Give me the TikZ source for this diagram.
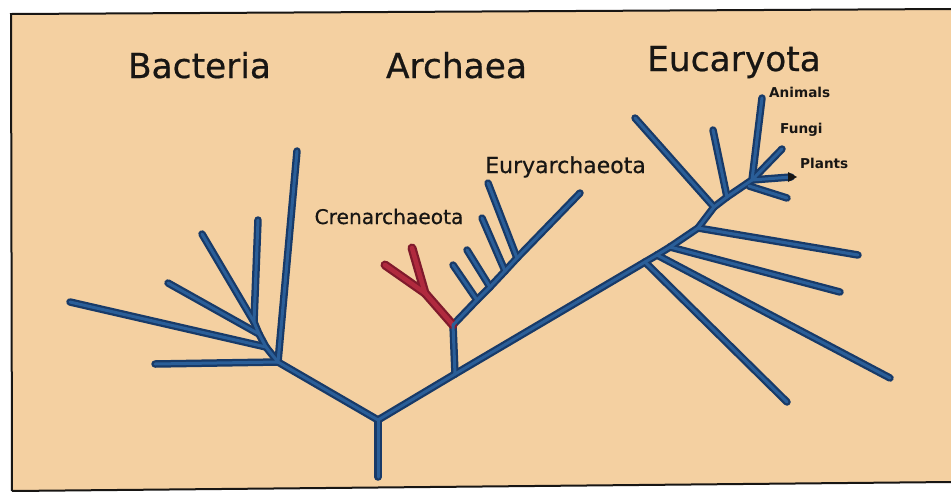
\documentclass[tikz,border=0pt]{standalone}
\usepackage{fontspec}
\setmainfont{DejaVu Sans}
\newfontfamily\heavyfont[FakeBold=0.6]{DejaVu Sans}
\usetikzlibrary{calc}
\definecolor{bg}{RGB}{244,208,161}
\definecolor{bout}{RGB}{24,58,104}
\definecolor{bin}{RGB}{42,94,152}
\definecolor{rout}{RGB}{128,26,44}
\definecolor{rin}{RGB}{176,42,62}
\definecolor{ink}{RGB}{24,22,20}
\begin{document}
\begin{tikzpicture}[x=1pt,y=-1pt,
  big/.style={font=\heavyfont\fontsize{34.4}{40}\selectfont, text=ink, inner sep=0pt, anchor=base},
  midl/.style={font=\heavyfont\fontsize{20.2}{24}\selectfont, text=ink, inner sep=0pt, anchor=base},
  midr/.style={font=\heavyfont\fontsize{22}{26}\selectfont, text=ink, inner sep=0pt, anchor=base},
  small/.style={font=\bfseries\fontsize{13.6}{16}\selectfont, text=ink, inner sep=0pt, anchor=base west},
  bO/.style={draw=bout, line width=7.5pt, line cap=round, line join=round},
  bI/.style={draw=bin, line width=3pt, line cap=round, line join=round},
  rO/.style={draw=rout, line width=9pt, line cap=round, line join=round},
  rI/.style={draw=rin, line width=4.5pt, line cap=round, line join=round},
]
\useasboundingbox (0,0) rectangle (951,491);
\fill[white] (0,0) rectangle (951,491);
\fill[bg] (11,14) -- (951,9) -- (951,482) -- (12,491) -- cycle;
\draw[line width=2pt, draw=ink] (12,491) -- (11,14) -- (951,9);
\draw[line width=2pt, draw=ink] (951,482) -- (12,491);

% coordinates
\coordinate (RB) at (378,477);
\coordinate (R) at (378,420);
\coordinate (bN) at (278,362);
\coordinate (bF) at (155,364);
\coordinate (bE) at (297,151);
\coordinate (bJ2) at (266,347);
\coordinate (bD) at (70,302);
\coordinate (bCj) at (259,334);
\coordinate (bC) at (168,283);
\coordinate (bJ1) at (254,322);
\coordinate (bA) at (202,234);
\coordinate (bB) at (258,220);
\coordinate (AJ) at (455,374);
\coordinate (aN) at (453,325);
\coordinate (a1j) at (477,300);
\coordinate (a2j) at (490,287);
\coordinate (a3j) at (505,271);
\coordinate (a4j) at (517,258);
\coordinate (aT) at (580,193);
\coordinate (a1) at (453,265);
\coordinate (a2) at (467,250);
\coordinate (a3) at (482,218);
\coordinate (a4) at (488,183);
\coordinate (rF) at (425,293);
\coordinate (rL) at (385,265);
\coordinate (rR) at (412,248);
\coordinate (E1) at (645,262);
\coordinate (E2) at (657,255);
\coordinate (E3) at (670,247);
\coordinate (E4) at (698,228);
\coordinate (E5) at (714,207);
\coordinate (E6) at (727,197);
\coordinate (C) at (752,180);
\coordinate (e1) at (787,402);
\coordinate (e2) at (890,378);
\coordinate (e3) at (840,292);
\coordinate (e4) at (858,255);
\coordinate (e5) at (635,118);
\coordinate (e6) at (713,130);
\coordinate (an) at (762,98);
\coordinate (fu) at (782,149);
\coordinate (pl) at (791,177);
\coordinate (Cl) at (749,186);
\coordinate (lo) at (787,198);

\def\bluesegs{RB/R, R/bN, bN/bF, bN/bE, bN/bJ2, bJ2/bD, bJ2/bCj, bCj/bC, bCj/bJ1, bJ1/bA, bJ1/bB,
  R/AJ, AJ/aN, aN/a1j, a1j/a2j, a2j/a3j, a3j/a4j, a4j/aT, a1j/a1, a2j/a2, a3j/a3, a4j/a4,
  AJ/E1, E1/E2, E2/E3, E3/E4, E4/E5, E5/E6, E6/C, E1/e1, E2/e2, E3/e3, E4/e4, E5/e5, E6/e6,
  C/an, C/fu, C/pl, Cl/lo}
\foreach \a/\b in \bluesegs { \draw[bO] (\a) -- (\b); }
\foreach \a/\b in {aN/rF, rF/rL, rF/rR} { \draw[rO] (\a) -- (\b); }
\foreach \a/\b in {aN/rF, rF/rL, rF/rR} { \draw[rI] (\a) -- (\b); }
\foreach \a/\b in \bluesegs { \draw[bI] (\a) -- (\b); }
\fill[ink] ($(pl)+(-3,-5)$) -- ($(pl)+(6,0)$) -- ($(pl)+(-3,5)$) -- cycle;

% labels
\node[big] (tBac) at (199.5,78) {Bacteria};
\node[big] (tArc) at (456.5,78) {Archaea};
\node[big] (tEuc) at (734,71) {Eucaryota};
\node[midl] (tCren) at (389,224) {Crenarchaeota};
\node[midr] (tEury) at (565.5,173) {Euryarchaeota};
\node[small] (tAn) at (769,97) {Animals};
\node[small] (tFu) at (780,133) {Fungi};
\node[small] (tPl) at (800,168) {Plants};
\end{tikzpicture}
\end{document}
